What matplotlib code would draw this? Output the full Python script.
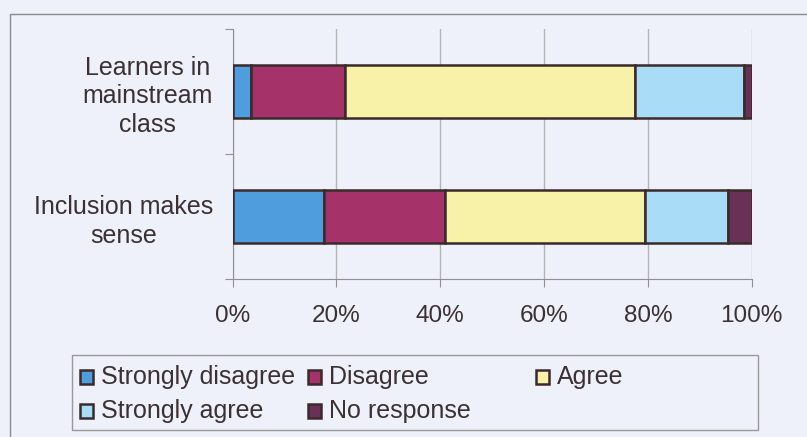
import matplotlib
matplotlib.use('Agg')
import matplotlib.pyplot as plt
from matplotlib.patches import Rectangle
import numpy as np

################################################
# survey responses (percent of respondents)
################################################

categories = ['Inclusion makes\nsense', 'Learners in\nmainstream\nclass']
series_names = ['Strongly disagree', 'Disagree', 'Agree', 'Strongly agree', 'No response']
strongly_disagree = [17.7, 3.6]
disagree = [23.2, 18.1]
agree = [38.5, 55.8]
strongly_agree = [16.0, 21.0]
no_response = [4.6, 1.5]
xticks = [0, 20, 40, 60, 80, 100]
xlabels = ['0%', '20%', '40%', '60%', '80%', '100%']

colors = ['#4f9ddc', '#a5336a', '#f8f1a8', '#a9dcf6', '#6a3156']
bg = '#eef1f9'
txt = '#3b3033'
edge = '#3a2a2c'

plt.rcParams['font.family'] = ['Liberation Sans', 'DejaVu Sans']
plt.rcParams['font.size'] = 17.5

W, H = 807, 437
fig = plt.figure(figsize=(W/100., H/100.), dpi=100, facecolor=bg)

def fx(px):
	return px/float(W)

def fy(py):
	return 1-py/float(H)

# outer chart frame
fig.patches.append(Rectangle((fx(10), fy(460)), fx(830), fy(14)-fy(460),
	transform=fig.transFigure, facecolor='none', edgecolor='#8a8a8a', lw=1.0))

ax = fig.add_axes([fx(232.5), fy(279), fx(751.7)-fx(232.5), fy(29)-fy(279)])
ax.set_facecolor(bg)

################################################
# stacked horizontal bars
################################################

y = np.arange(len(categories))
series = [strongly_disagree, disagree, agree, strongly_agree, no_response]
left = np.zeros(len(categories))
for vals, c, name in zip(series, colors, series_names):
	ax.barh(y, vals, left=left, height=0.42, color=c, edgecolor=edge, linewidth=1.8, label=name, zorder=3)
	left = left+np.array(vals)

ax.set_xlim(0, 100)
ax.set_ylim(-0.5, len(categories)-0.5)
ax.set_xticks(xticks)
ax.set_xticklabels(xlabels, color=txt)
ax.xaxis.grid(True, color='#b4b4b4', lw=1.0, zorder=0)

# category separators as major ticks, labels on minor ticks
ax.set_yticks(np.arange(-0.5, len(categories), 1.0))
ax.set_yticklabels([])
ax.set_yticks(y, minor=True)
ax.set_yticklabels(categories, minor=True, color=txt, linespacing=1.26, fontsize=18)
for lab in ax.get_yticklabels(minor=True):
	lab.set_multialignment('center')
ax.tick_params(axis='y', which='minor', length=0, pad=14)
ax.tick_params(axis='y', which='major', length=6, color='#909090')
ax.tick_params(axis='x', length=6, color='#909090', pad=13)

for s in ['top', 'right']:
	ax.spines[s].set_visible(False)
for s in ['left', 'bottom']:
	ax.spines[s].set_color('#909090')

################################################
# legend box, three equal columns
################################################

fig.patches.append(Rectangle((fx(72), fy(430)), fx(758)-fx(72), fy(355)-fy(430),
	transform=fig.transFigure, facecolor=bg, edgecolor='#999999', lw=1.0))

col_x = [80, 308, 536]
row_y = [377, 411]
for i in range(len(series_names)):
	cx = col_x[i % 3]
	ry = row_y[i//3]
	fig.patches.append(Rectangle((fx(cx), fy(ry+7)), fx(13), fy(ry-7)-fy(ry+7),
		transform=fig.transFigure, facecolor=colors[i], edgecolor=edge, lw=1.8))
	fig.text(fx(cx+21), fy(ry), series_names[i], color=txt, va='center', ha='left', fontsize=18)

plt.savefig('out.png', dpi=100, facecolor=bg)
